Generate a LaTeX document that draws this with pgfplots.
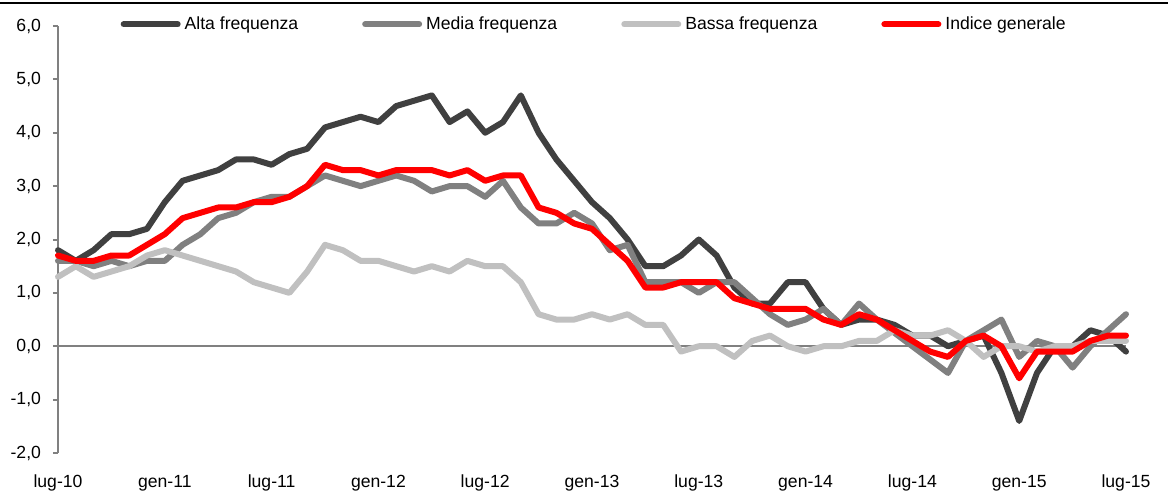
\documentclass[border=0pt]{standalone}
\usepackage{pgfplots}
\pgfplotsset{compat=1.18}
\usepackage{pgfplotstable}
\usepackage{fontspec}
\setmainfont{Liberation Sans}
\definecolor{alta}{HTML}{404040}
\definecolor{media}{HTML}{808080}
\definecolor{bassa}{HTML}{C0C0C0}
\definecolor{indice}{HTML}{FF0000}
\definecolor{axisgray}{HTML}{808080}
\pgfplotstableread{
x A M B R
0 1.8 1.6 1.3 1.7
1 1.6 1.6 1.5 1.6
2 1.8 1.5 1.3 1.6
3 2.1 1.6 1.4 1.7
4 2.1 1.5 1.5 1.7
5 2.2 1.6 1.7 1.9
6 2.7 1.6 1.8 2.1
7 3.1 1.9 1.7 2.4
8 3.2 2.1 1.6 2.5
9 3.3 2.4 1.5 2.6
10 3.5 2.5 1.4 2.6
11 3.5 2.7 1.2 2.7
12 3.4 2.8 1.1 2.7
13 3.6 2.8 1.0 2.8
14 3.7 3.0 1.4 3.0
15 4.1 3.2 1.9 3.4
16 4.2 3.1 1.8 3.3
17 4.3 3.0 1.6 3.3
18 4.2 3.1 1.6 3.2
19 4.5 3.2 1.5 3.3
20 4.6 3.1 1.4 3.3
21 4.7 2.9 1.5 3.3
22 4.2 3.0 1.4 3.2
23 4.4 3.0 1.6 3.3
24 4.0 2.8 1.5 3.1
25 4.2 3.1 1.5 3.2
26 4.7 2.6 1.2 3.2
27 4.0 2.3 0.6 2.6
28 3.5 2.3 0.5 2.5
29 3.1 2.5 0.5 2.3
30 2.7 2.3 0.6 2.2
31 2.4 1.8 0.5 1.9
32 2.0 1.9 0.6 1.6
33 1.5 1.2 0.4 1.1
34 1.5 1.2 0.4 1.1
35 1.7 1.2 -0.1 1.2
36 2.0 1.0 0.0 1.2
37 1.7 1.2 0.0 1.2
38 1.1 1.2 -0.2 0.9
39 0.8 0.9 0.1 0.8
40 0.8 0.6 0.2 0.7
41 1.2 0.4 0.0 0.7
42 1.2 0.5 -0.1 0.7
43 0.7 0.7 0.0 0.5
44 0.4 0.4 0.0 0.4
45 0.5 0.8 0.1 0.6
46 0.5 0.5 0.1 0.5
47 0.4 0.25 0.3 0.3
48 0.2 0.0 0.2 0.1
49 0.2 -0.25 0.2 -0.1
50 0.0 -0.5 0.3 -0.2
51 0.1 0.1 0.1 0.1
52 0.2 0.3 -0.2 0.2
53 -0.5 0.5 0.0 0.0
54 -1.4 -0.2 0.0 -0.6
55 -0.5 0.1 -0.1 -0.1
56 0.0 0.0 0.0 -0.1
57 0.0 -0.4 0.0 -0.1
58 0.3 0.0 0.1 0.1
59 0.2 0.3 0.1 0.2
60 -0.1 0.6 0.1 0.2
}\datatable
\begin{document}
\begin{tikzpicture}
\path[use as bounding box] (-29pt,-21.5pt) rectangle (555pt,226.5pt);
\begin{axis}[
  at={(0,0)}, anchor=south west,
  scale only axis,
  width=534pt, height=213.5pt,
  xmin=0, xmax=60, ymin=-2, ymax=6,
  axis y line*=left,
  axis x line*=bottom,
  x axis line style={draw=none},
  y axis line style={draw=axisgray, line width=1pt},
  xtick={0,6,...,60},
  xticklabels={lug-10,gen-11,lug-11,gen-12,lug-12,gen-13,lug-13,gen-14,lug-14,gen-15,lug-15},
  xtick style={draw=none},
  xticklabel style={yshift=-5pt},
  ytick={-2,-1,...,6},
  ytick style={draw=axisgray, line width=1pt},
  tick align=outside,
  major tick length=2.5pt,
  yticklabel style={xshift=-2.5pt},
  yticklabel={\pgfmathprintnumber[fixed,fixed zerofill,precision=1,use comma]{\tick}},
  /pgf/number format/assume math mode=true,
  tick label style={font=\fontsize{8.8}{10}\selectfont},
  clip=false,
  legend columns=4,
  legend style={draw=none, fill=none, at={(0.503,1.004)}, anchor=center,
    font=\fontsize{8.8}{10}\selectfont,
    /tikz/every even column/.append style={column sep=30pt},
    /tikz/every odd column/.append style={column sep=0pt}},
  legend image code/.code={\draw[#1] (0pt,0pt) -- (27pt,0pt);},
  every axis plot/.append style={line width=3pt, line join=round, line cap=round},
]
\addplot[axisgray, line width=1pt, forget plot, line cap=butt] coordinates {(0,0) (60,0)};
\addplot[alta] table[x=x,y=A] {\datatable};
\addlegendentry{Alta frequenza}
\addplot[media] table[x=x,y=M] {\datatable};
\addlegendentry{Media frequenza}
\addplot[bassa] table[x=x,y=B] {\datatable};
\addlegendentry{Bassa frequenza}
\addplot[indice] table[x=x,y=R] {\datatable};
\addlegendentry{Indice generale}
\end{axis}
\draw[line width=1.4pt] (-29pt,225pt) -- (555pt,225pt);
\end{tikzpicture}
\end{document}
